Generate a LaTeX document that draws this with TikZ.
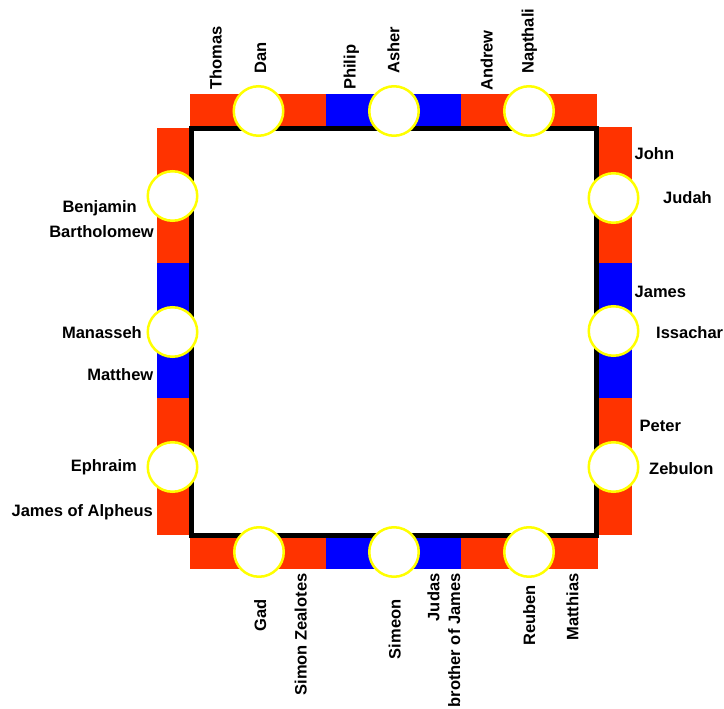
\documentclass[tikz,border=0pt]{standalone}
\usepackage{fontspec}
\setmainfont{Liberation Sans}
\definecolor{bandred}{RGB}{255,51,0}
\definecolor{bandblue}{RGB}{0,0,255}
\definecolor{ringyellow}{RGB}{255,255,0}
\begin{document}
\begin{tikzpicture}[x=1pt,y=-1pt,
  lbl/.style={font=\fontsize{16.5}{20}\selectfont\bfseries, inner sep=0pt, text=black},
  vlbl/.style={lbl, rotate=90},
  stop/.style={circle, draw=ringyellow, fill=white, line width=2.5pt,
               minimum size=49.5pt, inner sep=0pt},
  frame/.style={draw=black, line width=5pt}]
\useasboundingbox (0,0) rectangle (724,709);

% coloured bands around the square
% top
\fill[bandred]  (190,94) rectangle (326,128.5);
\fill[bandblue] (326,94) rectangle (461,128.5);
\fill[bandred]  (461,94) rectangle (597,128.5);
% bottom
\fill[bandred]  (190,535) rectangle (326,569);
\fill[bandblue] (326,535) rectangle (461,569);
\fill[bandred]  (461,535) rectangle (598,569);
% left
\fill[bandred]  (157,128) rectangle (191.5,263);
\fill[bandblue] (157,263) rectangle (191.5,398);
\fill[bandred]  (157,398) rectangle (191.5,535);
% right
\fill[bandred]  (596.5,127.5) rectangle (632,263);
\fill[bandblue] (596.5,263) rectangle (632,398);
\fill[bandred]  (596.5,398) rectangle (632,535);

% the square
\draw[frame] (191.5,128.5) rectangle (596.5,535);

% stations
\node[stop] (cDan)      at (258.5,111) {};
\node[stop] (cAsher)    at (394,111) {};
\node[stop] (cNapthali) at (529,111) {};
\node[stop] (cGad)      at (259,552) {};
\node[stop] (cSimeon)   at (394,552) {};
\node[stop] (cReuben)   at (529,552) {};
\node[stop] (cBenjamin) at (172.5,196) {};
\node[stop] (cManasseh) at (172.5,332) {};
\node[stop] (cEphraim)  at (172.5,467) {};
\node[stop] (cJudah)    at (613.5,198) {};
\node[stop] (cIssachar) at (613.5,331) {};
\node[stop] (cZebulon)  at (613.5,467) {};

% left labels
\node[lbl, anchor=base east] (benjamin)    at (137,212)   {Benjamin};
\node[lbl, anchor=base east] (bartholomew) at (154,237.5) {Bartholomew};
\node[lbl, anchor=base east] (manasseh)    at (142,338)   {Manasseh};
\node[lbl, anchor=base east] (matthew)     at (153.5,380) {Matthew};
\node[lbl, anchor=base east] (ephraim)     at (137,471)   {Ephraim};
\node[lbl, anchor=base east] (jamesalph)   at (153,516)   {James of Alpheus};

% right labels
\node[lbl, anchor=base west] (john)     at (634.5,159.5) {John};
\node[lbl, anchor=base west] (judah)    at (663,203.5)   {Judah};
\node[lbl, anchor=base west] (james)    at (634.5,297)   {James};
\node[lbl, anchor=base west] (issachar) at (656,338)     {Issachar};
\node[lbl, anchor=base west] (peter)    at (639.5,431.5) {Peter};
\node[lbl, anchor=base west] (zebulon)  at (649,474)     {Zebulon};

% top labels
\node[vlbl, anchor=base west] (thomas)   at (221.7,90)  {Thomas};
\node[vlbl, anchor=base west] (dan)      at (266,74)    {Dan};
\node[vlbl, anchor=base west] (philip)   at (355.5,90)  {Philip};
\node[vlbl, anchor=base west] (asher)    at (399.3,74)  {Asher};
\node[vlbl, anchor=base west] (andrew)   at (492.7,91)  {Andrew};
\node[vlbl, anchor=base west] (napthali) at (533.5,74)  {Napthali};

% bottom labels
\node[vlbl, anchor=base east] (gad)          at (266,599.3)   {Gad};
\node[vlbl, anchor=base east] (simonz)       at (306.7,573.3) {Simon Zealotes};
\node[vlbl, anchor=base east] (simeon)       at (400.7,599.3) {Simeon};
\node[vlbl, anchor=base east] (judas)        at (439.3,573.3) {Judas};
\node[vlbl, anchor=base east] (brotherjames) at (460,573.3)   {brother of James};
\node[vlbl, anchor=base east] (reuben)       at (535,585)     {Reuben};
\node[vlbl, anchor=base east] (matthias)     at (578.3,573.3) {Matthias};
\end{tikzpicture}
\end{document}
